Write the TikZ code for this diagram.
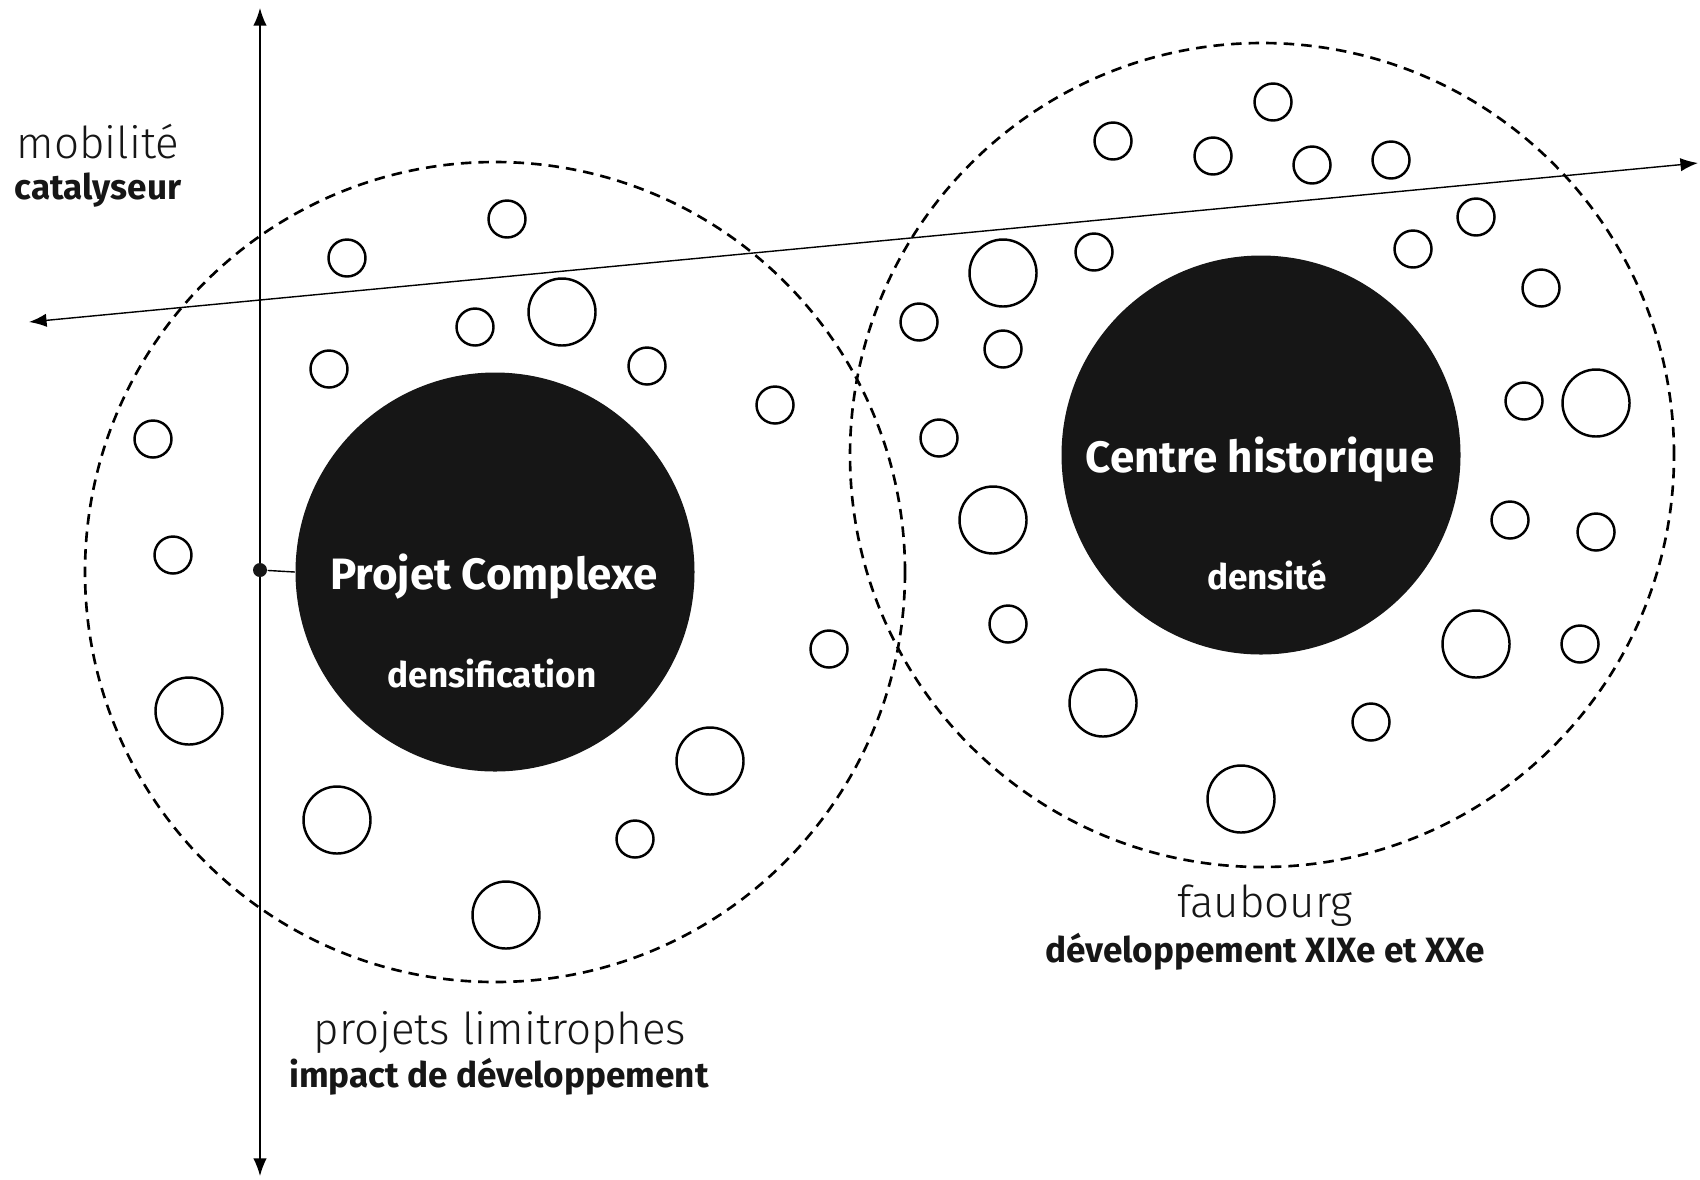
\documentclass[tikz,border=0pt]{standalone}
\usepackage{fontspec}
\setmainfont{Fira Sans}
\newfontfamily\lightfont{Fira Sans Light}
\usetikzlibrary{arrows.meta}
\definecolor{ink}{HTML}{161616}
\tikzset{>={Latex[length=5pt,width=3.8pt]}, line width=0.85pt}
\tikzset{
  core/.style={circle,fill=ink,draw=none,minimum size=3.99cm,inner sep=0pt},
  zone/.style={circle,draw,dash pattern=on 3pt off 2pt,line width=0.75pt,inner sep=0pt},
  bubble/.style={circle,draw,line width=0.7pt,minimum size=0.37cm,inner sep=0pt},
  bigbubble/.style={bubble,minimum size=0.67cm},
  headtext/.style={font=\lightfont\fontsize{12.5}{14}\selectfont,text=ink,anchor=base},
  tagtext/.style={font=\bfseries\fontsize{10}{12}\selectfont,text=ink,anchor=base},
  coretext/.style={font=\bfseries\fontsize{12.5}{14}\selectfont,text=white,anchor=base},
  coresub/.style={font=\bfseries\fontsize{10}{12}\selectfont,text=white,anchor=base},
}

\begin{document}
\begin{tikzpicture}[x=0.1mm,y=-0.1mm]
  \useasboundingbox (0,0) rectangle (1700,1179);

  % zones
  \node[zone,minimum size=8.2cm] (limit) at (495,572) {};
  \node[zone,minimum size=8.24cm] (faub) at (1262,455) {};

  % small projects, left
  \foreach \x/\y [count=\i] in {507/219,347/258,475/327,329/369,647/366,775/405,153/439,173/555,829/649,635/839}
    \node[bubble] (ls\i) at (\x,\y) {};
  \foreach \x/\y [count=\i] in {562/312,189/711,710/761,337/820,506/915}
    \node[bigbubble] (lb\i) at (\x,\y) {};

  % small projects, right
  \foreach \x/\y [count=\i] in {1273/102,1113/141,1213/156,1312/165,1391/160,1476/217,1094/252,1413/249,919/322,1541/288,1003/349,1524/401,939/438,1510/520,1596/532,1008/624,1580/644,1371/722}
    \node[bubble] (rs\i) at (\x,\y) {};
  \foreach \x/\y [count=\i] in {1003/273,1596/403,993/520,1476/644,1103/703,1241/799}
    \node[bigbubble] (rb\i) at (\x,\y) {};

  % cores
  \node[core] (pc) at (495,572) {};
  \node[core] (ch) at (1261,455) {};
  \node[coretext] (pctitle) at (494,589) {Projet Complexe};
  \node[coresub] (pcsub) at (492,687) {densification};
  \node[coretext] (chtitle) at (1260,472) {Centre historique};
  \node[coresub] (chsub) at (1267,589) {densité};

  % axes
  \coordinate (vtop) at (260,8);
  \coordinate (vbot) at (260,1176);
  \coordinate (mleft) at (29,322);
  \coordinate (mright) at (1698,163);
  \draw[<->] (vbot) -- (vtop);
  \draw[<->] (mleft) -- (mright);

  % hub
  \node[circle,fill=ink,inner sep=0pt,minimum size=0.14cm] (hub) at (260,570) {};
  \draw (hub) -- (pc.west);

  % labels
  \node[headtext] (mob) at (98,158) {mobilité};
  \node[tagtext] (cat) at (98,199) {catalyseur};
  \node[headtext] (proj) at (500,1044) {projets limitrophes};
  \node[tagtext] (imp) at (499,1087) {impact de développement};
  \node[headtext] (fbg) at (1265,917) {faubourg};
  \node[tagtext] (dev) at (1265,962) {développement XIXe et XXe};
\end{tikzpicture}
\end{document}
